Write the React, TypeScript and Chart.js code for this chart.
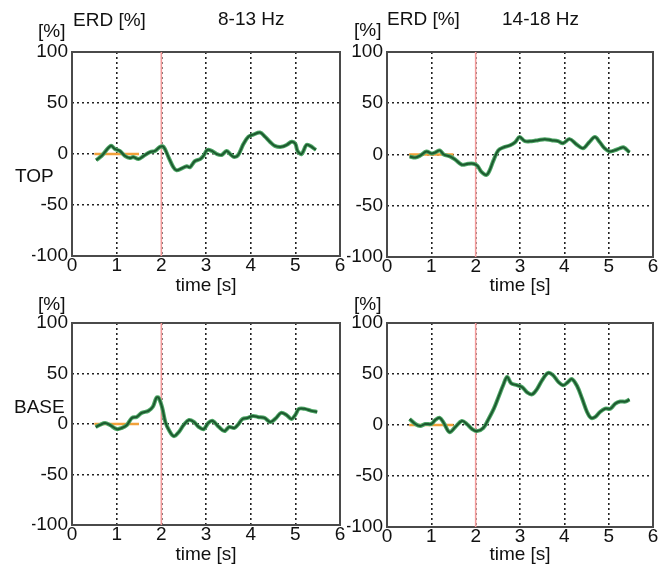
import React, { useEffect, useRef } from "react";
import { Chart, registerables } from "chart.js";

Chart.register(...registerables);

const FONT = "'Liberation Sans', Arial, Helvetica, sans-serif";
const W = 666;
const H = 568;

// ---- data ----
const baselineT = [0.5, 1.5];
const baselineV = [0, 0];
const markerT = [2, 2];
const markerV = [-100, 100];

// TOP, 8-13 Hz
const topAlphaT = [0.54, 0.66, 0.87, 0.96, 1.07, 1.19, 1.30, 1.37, 1.49, 1.60, 1.75, 1.86, 1.97, 2.05, 2.16, 2.27, 2.34, 2.46, 2.57, 2.64, 2.75, 2.87, 2.94, 3.03, 3.13, 3.24, 3.35, 3.46, 3.54, 3.63, 3.72, 3.84, 3.95, 4.06, 4.21, 4.32, 4.43, 4.54, 4.69, 4.81, 4.92, 5.00, 5.05, 5.14, 5.25, 5.33, 5.46];
const topAlphaV = [-6, -2, 8, 5, 3, -2, -4, -3, -5, -2, 2, 3, 7, 7, -3, -13, -16, -14, -12, -13, -7, -5, -2, 4, 3, 0, -1, 3, 0, -3, -1, 10, 17, 19, 21, 17, 12, 8, 7, 9, 12, 10, 3, 0, 9, 8, 4];

// TOP, 14-18 Hz
const topBetaT = [0.51, 0.64, 0.75, 0.89, 1.00, 1.09, 1.19, 1.28, 1.43, 1.54, 1.69, 1.83, 1.95, 2.04, 2.13, 2.24, 2.31, 2.40, 2.51, 2.63, 2.78, 2.89, 2.99, 3.11, 3.26, 3.41, 3.56, 3.71, 3.86, 3.97, 4.12, 4.27, 4.42, 4.56, 4.69, 4.80, 4.91, 5.02, 5.13, 5.25, 5.34, 5.47];
const topBetaV = [-2, -3, -1, 3, 1, 2, 4, 0, -2, -5, -10, -9, -9, -11, -17, -20, -16, -6, 4, 7, 9, 12, 17, 13, 13, 14, 15, 14, 13, 11, 15, 10, 6, 12, 17, 12, 6, 3, 4, 6, 7, 2];

// BASE, 8-13 Hz
const baseAlphaT = [0.53, 0.62, 0.74, 0.85, 1.00, 1.11, 1.23, 1.34, 1.45, 1.56, 1.71, 1.81, 1.89, 1.94, 2.02, 2.09, 2.17, 2.28, 2.39, 2.50, 2.62, 2.73, 2.84, 2.95, 3.05, 3.15, 3.29, 3.41, 3.52, 3.63, 3.71, 3.82, 3.93, 4.05, 4.16, 4.31, 4.44, 4.57, 4.68, 4.80, 4.91, 5.00, 5.08, 5.21, 5.36, 5.49];
const baseAlphaV = [-3, -1, 1, -1, -5, -4, -1, 6, 7, 11, 13, 17, 26, 26, 16, 2, -6, -12, -8, -1, 4, 2, -3, -5, 1, 3, -3, -7, -3, -4, -1, 5, 6, 8, 7, 6, 2, 6, 11, 9, 5, 9, 15, 15, 13, 12];

// BASE, 14-18 Hz
const baseBetaT = [0.51, 0.64, 0.75, 0.86, 1.00, 1.09, 1.19, 1.28, 1.41, 1.54, 1.69, 1.80, 1.92, 2.03, 2.17, 2.28, 2.41, 2.52, 2.62, 2.71, 2.80, 2.93, 3.05, 3.16, 3.27, 3.38, 3.50, 3.63, 3.74, 3.87, 3.98, 4.08, 4.17, 4.29, 4.40, 4.51, 4.60, 4.70, 4.81, 4.92, 5.04, 5.15, 5.26, 5.38, 5.47];
const baseBetaV = [6, 1, -1, 1, 1, 5, 7, 2, -7, -2, 4, 1, -4, -6, -3, 5, 16, 28, 39, 47, 41, 39, 37, 32, 30, 35, 44, 51, 49, 42, 39, 42, 45, 38, 26, 13, 7, 8, 13, 16, 16, 21, 23, 23, 25];

const xMin = 0, xMax = 6, xStep = 1;
const yMin = -100, yMax = 100, yStep = 50;

// ---- layout ----
type Label = { text: string; x: number; y: number };
type Panel = {
  t: number[];
  v: number[];
  area: { left: number; top: number; right: number; bottom: number };
  axisH: number;
  labels: Label[];
};

const panels: Panel[] = [
  {
    t: topAlphaT, v: topAlphaV,
    area: { left: 72, top: 52, right: 340, bottom: 256 }, axisH: 41,
    labels: [
      { text: "ERD [%]", x: 73, y: 26 },
      { text: "8-13 Hz", x: 218, y: 25 },
      { text: "[%]", x: 38, y: 37 },
      { text: "TOP", x: 15, y: 182 },
    ],
  },
  {
    t: topBetaT, v: topBetaV,
    area: { left: 387, top: 52, right: 653, bottom: 257 }, axisH: 40,
    labels: [
      { text: "ERD [%]", x: 387, y: 25 },
      { text: "14-18 Hz", x: 502, y: 25 },
      { text: "[%]", x: 354, y: 36 },
    ],
  },
  {
    t: baseAlphaT, v: baseAlphaV,
    area: { left: 72, top: 323, right: 340, bottom: 525 }, axisH: 41,
    labels: [
      { text: "[%]", x: 38, y: 310 },
      { text: "BASE", x: 14, y: 413 },
    ],
  },
  {
    t: baseBetaT, v: baseBetaV,
    area: { left: 387, top: 323, right: 653, bottom: 527 }, axisH: 39,
    labels: [{ text: "[%]", x: 354, y: 310 }],
  },
];

const YW = 40;
const FS = 19;

function pts(t: number[], v: number[]) {
  return t.map((x, i) => ({ x, y: v[i] }));
}

function makeConfig(p: Panel): any {
  const framePlugin = {
    id: "frameAndText",
    beforeDatasetsDraw(chart: any) {
      const { ctx, chartArea: a } = chart;
      ctx.save();
      ctx.strokeStyle = "#4a4a4a";
      ctx.lineWidth = 2;
      ctx.strokeRect(a.left, a.top, a.right - a.left, a.bottom - a.top);
      ctx.restore();
    },
    afterDraw(chart: any) {
      const { ctx } = chart;
      ctx.save();
      ctx.font = `${FS}px ${FONT}`;
      ctx.fillStyle = "#111";
      ctx.textAlign = "left";
      ctx.textBaseline = "alphabetic";
      p.labels.forEach((l) => ctx.fillText(l.text, l.x, l.y));
      ctx.restore();
    },
  };

  const tickFont = { family: FONT, size: FS };
  return {
    type: "line",
    data: {
      datasets: [
        { data: pts(p.t, p.v), borderColor: "#1d5a2f", borderWidth: 2, tension: 0.35, pointRadius: 0 },
        { data: pts(p.t, p.v), borderColor: "#4ea766", borderWidth: 4, tension: 0.35, pointRadius: 0 },
        { data: pts(baselineT, baselineV), borderColor: "#f2a13a", borderWidth: 2.5, pointRadius: 0 },
        { data: pts(markerT, markerV), borderColor: "#f29a9a", borderWidth: 1.6, pointRadius: 0 },
      ],
    },
    options: {
      animation: false,
      responsive: false,
      events: [],
      layout: {
        autoPadding: false,
        padding: {
          left: p.area.left - YW,
          top: p.area.top,
          right: W - p.area.right,
          bottom: H - p.area.bottom - p.axisH,
        },
      },
      plugins: { legend: { display: false }, tooltip: { enabled: false }, title: { display: false } },
      scales: {
        x: {
          type: "linear",
          min: xMin,
          max: xMax,
          afterFit: (s: any) => { s.height = p.axisH; },
          ticks: { stepSize: xStep, font: tickFont, color: "#111", padding: -2, maxRotation: 0 },
          grid: { color: "#222", lineWidth: 1.6, drawTicks: false },
          border: { display: false, dash: [2, 3] },
          title: { display: true, text: "time [s]", font: tickFont, color: "#111", padding: { top: 0, bottom: 0 } },
        },
        y: {
          type: "linear",
          min: yMin,
          max: yMax,
          afterFit: (s: any) => { s.width = YW; },
          ticks: { stepSize: yStep, font: tickFont, color: "#111", padding: 4 },
          grid: { color: "#222", lineWidth: 1.6, drawTicks: false },
          border: { display: false, dash: [2, 3] },
        },
      },
    },
    plugins: [framePlugin],
  };
}

function PanelChart({ p }: { p: Panel }) {
  const ref = useRef<HTMLCanvasElement>(null);
  useEffect(() => {
    const chart = new Chart(ref.current as HTMLCanvasElement, makeConfig(p));
    return () => chart.destroy();
  }, [p]);
  return (
    <canvas
      ref={ref}
      width={W}
      height={H}
      style={{ position: "absolute", left: 0, top: 0, width: W, height: H }}
    />
  );
}

export default function App() {
  return (
    <div style={{ position: "absolute", left: 0, top: 0, width: W, height: H, background: "#fff" }}>
      {panels.map((p, i) => (
        <PanelChart key={i} p={p} />
      ))}
    </div>
  );
}
